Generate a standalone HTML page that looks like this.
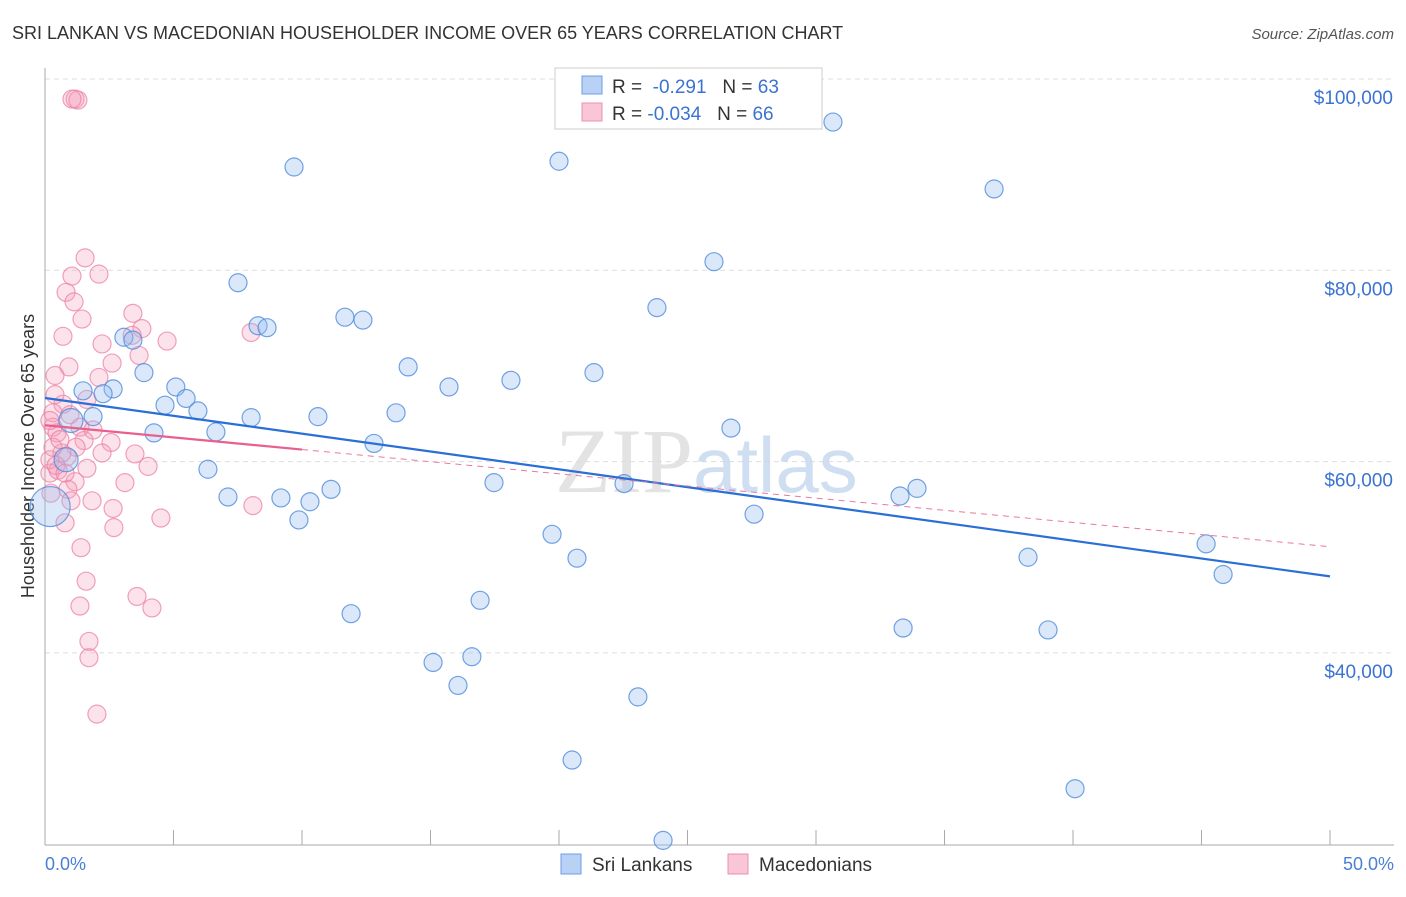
<!DOCTYPE html>
<html><head><meta charset="utf-8"><style>
body{margin:0;background:#fff;font-family:"Liberation Sans",sans-serif}
</style></head><body>
<svg id="chart" width="1406" height="892" xmlns="http://www.w3.org/2000/svg" font-family="Liberation Sans, sans-serif">
<text x="12" y="39" font-size="18" fill="#333">SRI LANKAN VS MACEDONIAN HOUSEHOLDER INCOME OVER 65 YEARS CORRELATION CHART</text>
<text x="1394" y="39" font-size="15" fill="#555" text-anchor="end" font-style="italic">Source: ZipAtlas.com</text>
<g id="grid"></g>
<text x="555" y="492" font-size="92" fill="#ddd" font-family="Liberation Serif, serif" opacity="0.8">ZIP<tspan fill="#c5d6ee" font-family="Liberation Sans, sans-serif" font-size="78">atlas</tspan></text>
<line x1="45" y1="68" x2="45" y2="845" stroke="#aaa"/>
<line x1="45" y1="845" x2="1394" y2="845" stroke="#aaa"/>
<text transform="translate(34,456) rotate(-90)" font-size="18" fill="#333" text-anchor="middle">Householder Income Over 65 years</text>
<text x="45" y="870" font-size="18" fill="#4a7fd4">0.0%</text>
<text x="1394" y="870" font-size="18" fill="#4a7fd4" text-anchor="end">50.0%</text>
<g id="points"></g>
<g id="trends"></g>
<g>
<rect x="555" y="68" width="267" height="61" fill="#fff" stroke="#ccc"/>
<rect x="582" y="76" width="20" height="18" fill="#b8d1f5" stroke="#6a9ee8"/>
<rect x="582" y="103" width="20" height="18" fill="#f9c6d5" stroke="#ec8fae"/>
<text x="612" y="93" font-size="19" fill="#333">R = <tspan fill="#3b73d1">&#160;-0.291</tspan>&#160;&#160;&#160;N = <tspan fill="#3b73d1">63</tspan></text>
<text x="612" y="120" font-size="19" fill="#333">R = <tspan fill="#3b73d1">-0.034</tspan>&#160;&#160;&#160;N = <tspan fill="#3b73d1">66</tspan></text>
</g>
<g>
<rect x="561" y="854" width="20" height="20" fill="#b8d1f5" stroke="#6a9ee8"/>
<text x="592" y="871" font-size="19" fill="#333">Sri Lankans</text>
<rect x="728" y="854" width="20" height="20" fill="#f9c6d5" stroke="#ec8fae"/>
<text x="759" y="871" font-size="19" fill="#333">Macedonians</text>
</g>
</svg>
<script>
const yTicks=[40000,60000,80000,100000];
const yTickLabels=["$40,000","$60,000","$80,000","$100,000"];
const xTicks=[0,5,10,15,20,25,30,35,40,45,50];
const blueX=[30.66,20.0,9.69,36.93,26.03,7.51,23.81,11.67,12.37,8.29,8.64,3.07,3.42,14.13,21.36,3.85,18.13,15.72,5.09,1.48,2.65,2.26,5.49,4.67,5.95,13.66,1.87,8.02,10.62,1.01,26.69,4.24,6.65,12.8,0.82,6.34,17.47,22.53,33.93,11.13,7.12,9.18,33.27,10.31,0.2,27.59,9.88,19.73,45.18,20.7,38.25,45.84,11.91,16.93,33.39,39.03,16.61,15.1,16.07,23.07,20.51,40.08,24.05];
const blueY=[95.5,91.4,90.8,88.5,80.9,78.7,76.1,75.1,74.8,74.2,74.0,73.0,72.7,69.9,69.3,69.3,68.5,67.8,67.8,67.4,67.6,67.1,66.6,65.9,65.3,65.1,64.7,64.6,64.7,64.3,63.5,63.0,63.1,61.9,60.2,59.2,57.8,57.7,57.2,57.1,56.3,56.2,56.4,55.8,55.3,54.5,53.9,52.4,51.4,49.9,50.0,48.2,44.1,45.5,42.6,42.4,39.6,39.0,36.6,35.4,28.8,25.8,20.4];
const pinkX=[1.56,1.05,2.10,0.82,1.13,1.44,0.70,2.22,3.42,3.77,3.39,3.66,4.75,2.61,0.93,0.39,2.10,0.70,1.63,0.31,0.31,0.47,1.36,1.87,2.57,1.52,1.21,2.22,3.50,4.01,1.63,0.86,0.19,1.17,0.89,3.11,1.01,1.83,2.65,8.09,0.23,0.78,2.68,4.51,1.40,1.60,1.36,3.58,4.16,1.71,1.71,2.02,8.02,0.19,0.51,0.66,0.19,0.31,1.17,1.28,0.58,0.39,0.97,0.43,1.05,0.78];
const pinkY=[81.3,79.4,79.6,77.7,76.7,74.9,73.1,72.3,75.5,73.9,73.2,71.1,72.6,70.3,69.9,69.0,68.8,66.0,66.5,65.1,63.6,63.0,63.6,63.3,62.0,62.2,61.5,60.9,60.8,59.5,59.3,60.5,58.8,57.9,57.1,57.8,55.9,55.9,55.1,55.4,56.7,53.6,53.1,54.1,51.0,47.5,44.9,45.9,44.7,41.2,39.5,33.6,73.5,60.2,59.1,60.9,64.3,61.5,97.9,97.8,62.3,67.0,64.9,59.6,97.9,58.8];
const blueTrend=[66.65,48.0];
const pinkTrend=[63.8,51.1];
const pinkSolidEnd=10;
const NS="http://www.w3.org/2000/svg";
const xs=v=>45+v/50*1285;
const ys=k=>79+(100-k)/20*191.3;
function mk(tag,attrs,parent){const e=document.createElementNS(NS,tag);for(const k in attrs)e.setAttribute(k,attrs[k]);parent.appendChild(e);return e;}
const grid=document.getElementById('grid');
yTicks.forEach((t,i)=>{const y=ys(t/1000);
 const l=mk('line',{x1:45,x2:1394,y1:y,y2:y,stroke:'#ddd','stroke-dasharray':'5,4'},grid);
 
 
 const tx=mk('text',{x:1393,y:y+25,'font-size':19,fill:'#3b73d1','text-anchor':'end'},grid);
 tx.textContent=yTickLabels[i];
 
 
});
xTicks.forEach(t=>{const x=xs(t);
 const l=mk('line',{x1:x,x2:x,y1:830,y2:845,stroke:'#aaa'},grid);
 
 
});
const pts=document.getElementById('points');
const big={0.2:20,1.01:12,0.82:12};
pinkX.forEach((x,i)=>{const c=mk('circle',{cx:xs(x),cy:ys(pinkY[i]),r:9,fill:'rgba(244,160,188,0.3)',stroke:'rgba(236,130,165,0.75)','stroke-width':1.2},pts);
 
 
});
blueX.forEach((x,i)=>{const r=big[x]||9;const c=mk('circle',{cx:xs(x),cy:ys(blueY[i]),r:r,fill:'rgba(150,190,240,0.35)',stroke:'rgba(80,140,220,0.8)','stroke-width':1.2},pts);
 
 
});
const tr=document.getElementById('trends');
const bl=mk('line',{x1:xs(0),y1:ys(blueTrend[0]),x2:xs(50),y2:ys(blueTrend[1]),stroke:'#2a6fd6','stroke-width':2.2},tr);


const pAt=x=>pinkTrend[0]+(pinkTrend[1]-pinkTrend[0])*x/50;
const pd=mk('line',{x1:xs(pinkSolidEnd),y1:ys(pAt(pinkSolidEnd)),x2:xs(50),y2:ys(pinkTrend[1]),stroke:'#e8799f','stroke-width':1,'stroke-dasharray':'6,5'},tr);


const ps=mk('line',{x1:xs(0),y1:ys(pinkTrend[0]),x2:xs(pinkSolidEnd),y2:ys(pAt(pinkSolidEnd)),stroke:'#e8608e','stroke-width':2.2},tr);


</script>
</body></html>
